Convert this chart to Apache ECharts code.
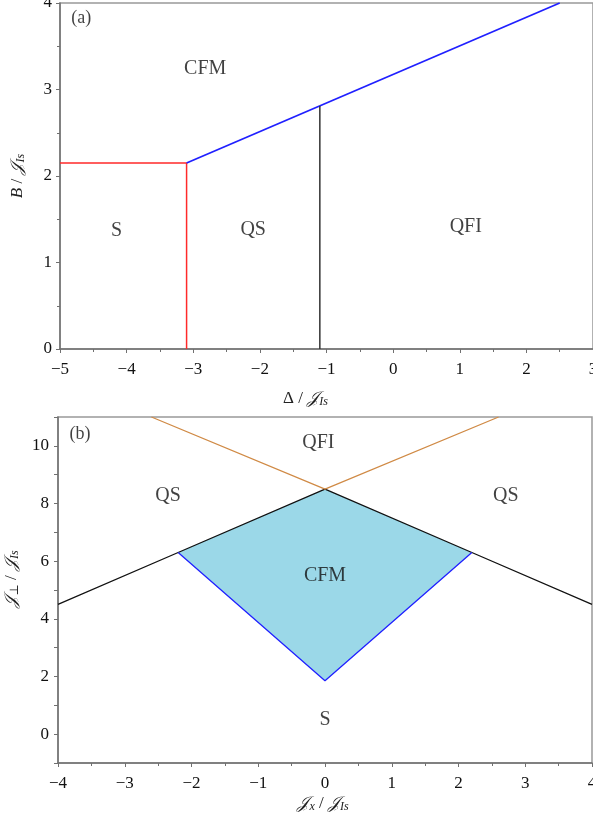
<!DOCTYPE html>
<html>
<head>
<meta charset="utf-8">
<script src="https://cdn.jsdelivr.net/npm/echarts@6/dist/echarts.min.js"></script>
<style>html,body{margin:0;padding:0;background:#fff;overflow:hidden}#c{width:593px;height:821px}</style>
</head>
<body>
<div id="c"></div>
<script>
// ---- Panel (a) data: B/J_Is versus Delta/J_Is ----
const aRedBoundary = [[-5, 2.15], [-3.1, 2.15], [-3.1, 0]];
const aBlueBoundary = [[-3.1, 2.15], [2.5, 4]];
const aBlackBoundary = [[-1.1, 2.81], [-1.1, 0]];
const aPhaseLabels = [
  { name: 'CFM', value: [-2.82, 3.24] },
  { name: 'S', value: [-4.15, 1.37] },
  { name: 'QS', value: [-2.1, 1.38] },
  { name: 'QFI', value: [1.09, 1.41] }
];
const aPanelTag = [{ name: '(a)', value: [-4.68, 3.82] }];

// ---- Panel (b) data: J_perp/J_Is versus J_x/J_Is ----
const bBlackBoundary = [[-4, 4.5], [-2.2, 6.3], [0, 8.5], [2.2, 6.3], [4, 4.5]];
const bBlueBoundary = [[-2.2, 6.3], [0, 1.85], [2.2, 6.3]];
const bOrangeBoundary = [[-2.6, 11], [0, 8.5], [2.6, 11]];
const bCFMRegion = [[-2.2, 6.3], [0, 8.5], [2.2, 6.3], [0, 1.85]];
const bPhaseLabels = [
  { name: 'QFI', value: [-0.1, 10.1] },
  { name: 'QS', value: [-2.35, 8.26] },
  { name: 'QS', value: [2.71, 8.26] },
  { name: 'CFM', value: [0, 5.49] },
  { name: 'S', value: [0, 0.49] }
];
const bPanelTag = [{ name: '(b)', value: [-3.67, 10.4] }];

// labelled tick values of panel (b) y axis
const bYTickLabels = [0, 2, 4, 6, 8, 10];

const SERIF = '"Liberation Serif", "DejaVu Serif", serif';
const axisGray = '#707070';
const minus = v => String(v).replace('-', '\u2212');

const nameRich = {
  m: { fontFamily: SERIF, fontSize: 17, fontStyle: 'italic', color: '#222' },
  n: { fontFamily: SERIF, fontSize: 17, color: '#222' },
  s: { fontFamily: SERIF, fontSize: 12, fontStyle: 'italic', color: '#222', padding: [7, 0, 0, 0] }
};

function xAx(gridIndex, min, max, name, gap, pad) {
  return {
    type: 'value', gridIndex, min, max, interval: 1,
    name, nameLocation: 'middle', nameGap: gap,
    nameTextStyle: { rich: nameRich, padding: pad },
    axisLine: { show: true, onZero: false, lineStyle: { color: axisGray, width: 1.5 } },
    axisTick: { show: true, length: 4, lineStyle: { color: axisGray } },
    minorTick: { show: true, splitNumber: 2, length: 3, lineStyle: { color: axisGray } },
    splitLine: { show: false },
    axisLabel: { fontFamily: SERIF, fontSize: 17, color: '#111', margin: 12, formatter: minus, showMaxLabel: true, showMinLabel: true }
  };
}

const chart = echarts.init(document.getElementById('c'), null, { renderer: 'canvas' });
function lineS(xi, data, color, width) {
  return { type: 'line', xAxisIndex: xi, yAxisIndex: xi, data, symbol: 'none', silent: true,
    lineStyle: { color, width }, z: 5 };
}
function textS(xi, data, size) {
  return { type: 'scatter', xAxisIndex: xi, yAxisIndex: xi, data, symbolSize: 0, silent: true, z: 10,
    label: { show: true, position: 'inside', formatter: p => p.name, fontFamily: SERIF, fontSize: size, color: '#111' } };
}

chart.setOption({
  animation: false,
  backgroundColor: '#fff',
  grid: [
    { left: 60, top: 3, width: 533, height: 346, show: true, borderColor: '#999', borderWidth: 1.5, containLabel: false, outerBoundsMode: 'none' },
    { left: 58, top: 417, width: 534, height: 346, show: true, borderColor: '#999', borderWidth: 1.5, containLabel: false, outerBoundsMode: 'none' }
  ],
  xAxis: [
    xAx(0, -5, 3, '{n|\u0394 / }{m|\uD835\uDCA5}{s|Is}', 40, [0, 42, 0, 0]),
    xAx(1, -4, 4, '{m|\uD835\uDCA5}{s|x}{n| / }{m|\uD835\uDCA5}{s|Is}', 31, [0, 4, 0, 0])
  ],
  yAxis: [
    {
      type: 'value', gridIndex: 0, min: 0, max: 4, interval: 1,
      name: '{m|B}{n| / }{m|\uD835\uDCA5}{s|Is}', nameLocation: 'middle', nameGap: 33, nameRotate: 90,
      nameTextStyle: { rich: nameRich },
      axisLine: { show: true, onZero: false, lineStyle: { color: axisGray, width: 1.5 } },
      axisTick: { show: true, length: 4, lineStyle: { color: axisGray } },
      minorTick: { show: true, splitNumber: 2, length: 3, lineStyle: { color: axisGray } },
      splitLine: { show: false },
      axisLabel: { fontFamily: SERIF, fontSize: 17, color: '#111', margin: 8, formatter: minus }
    },
    {
      type: 'value', gridIndex: 1, min: -1, max: 11, interval: 1,
      name: '{m|\uD835\uDCA5}{s|\u22A5}{n| / }{m|\uD835\uDCA5}{s|Is}', nameLocation: 'middle', nameGap: 33, nameRotate: 90,
      nameTextStyle: { rich: nameRich, padding: [0, 0, 0, 22] },
      axisLine: { show: true, onZero: false, lineStyle: { color: axisGray, width: 1.5 } },
      axisTick: { show: true, length: 4, lineStyle: { color: axisGray } },
      splitLine: { show: false },
      axisLabel: { fontFamily: SERIF, fontSize: 17, color: '#111', margin: 9, formatter: minus, customValues: bYTickLabels }
    }
  ],
  series: [
    lineS(0, aRedBoundary, '#ff2a2a', 1.5),
    lineS(0, aBlueBoundary, '#2020ff', 1.8),
    lineS(0, aBlackBoundary, '#333', 1.5),
    textS(0, aPhaseLabels, 20),
    textS(0, aPanelTag, 18),
    {
      type: 'custom', xAxisIndex: 1, yAxisIndex: 1, silent: true, z: 2,
      data: [0],
      renderItem: (params, api) => ({
        type: 'polygon',
        shape: { points: bCFMRegion.map(p => api.coord(p)) },
        style: { fill: '#9bd8e8', stroke: 'none' }
      })
    },
    lineS(1, bBlackBoundary, '#111', 1.3),
    lineS(1, bBlueBoundary, '#2020ff', 1.3),
    lineS(1, bOrangeBoundary, '#d08a45', 1.3),
    textS(1, bPhaseLabels, 20),
    textS(1, bPanelTag, 18)
  ]
});
</script>
</body>
</html>
